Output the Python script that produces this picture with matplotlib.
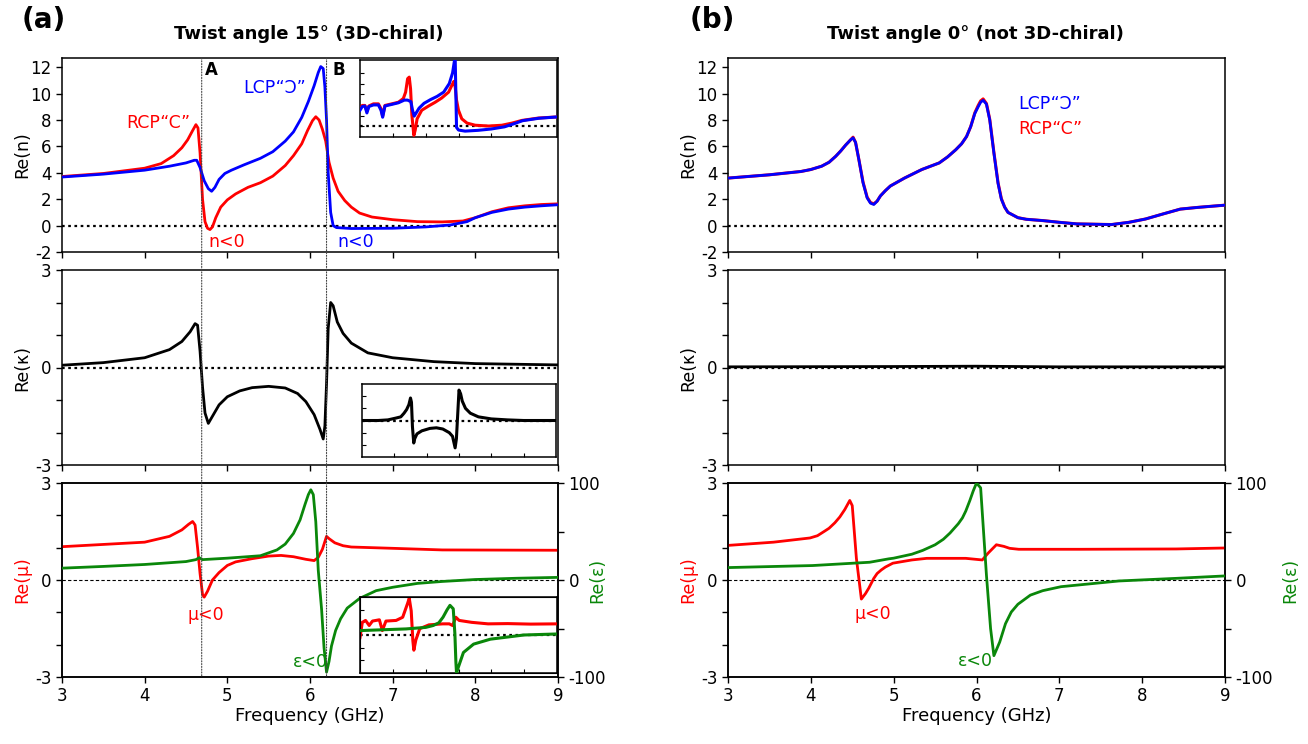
import matplotlib
matplotlib.use("Agg")
import matplotlib.pyplot as plt
from matplotlib.patches import ConnectionPatch
from matplotlib.ticker import FixedLocator, NullFormatter

plt.rcParams['axes.unicode_minus'] = False

# ---------------- data ----------------
# (a) twist 15 deg, Re(n)
a_rcp_f = [3.0, 3.5, 4.0, 4.2, 4.35, 4.45, 4.52, 4.58, 4.62, 4.645, 4.67, 4.70, 4.73, 4.76, 4.79, 4.82, 4.86,
           4.92, 5.0, 5.1, 5.25, 5.4, 5.55, 5.7, 5.8, 5.9, 5.97, 6.03, 6.07, 6.11, 6.15, 6.19, 6.23, 6.28, 6.34,
           6.42, 6.5, 6.6, 6.75, 7.0, 7.3, 7.6, 7.85, 8.0, 8.2, 8.4, 8.6, 8.8, 9.0]
a_rcp_n = [3.72, 3.95, 4.35, 4.7, 5.3, 5.9, 6.5, 7.2, 7.65, 7.4, 5.5, 2.0, 0.3, -0.2, -0.3, -0.1, 0.6,
           1.4, 1.95, 2.4, 2.9, 3.25, 3.75, 4.55, 5.3, 6.2, 7.2, 7.95, 8.25, 8.0, 7.3, 6.4, 4.8, 3.6, 2.6,
           1.9, 1.4, 0.95, 0.65, 0.45, 0.3, 0.28, 0.35, 0.6, 1.05, 1.35, 1.5, 1.6, 1.65]
a_lcp_f = [3.0, 3.5, 4.0, 4.3, 4.5, 4.6, 4.63, 4.67, 4.72, 4.77, 4.81, 4.85, 4.9, 4.97, 5.05, 5.2, 5.4, 5.55,
           5.7, 5.8, 5.9, 5.98, 6.05, 6.1, 6.13, 6.16, 6.18, 6.2, 6.22, 6.25, 6.28, 6.32, 6.5, 7.0, 7.4, 7.7,
           7.9, 8.0, 8.2, 8.4, 8.6, 8.8, 9.0]
a_lcp_n = [3.68, 3.9, 4.2, 4.5, 4.75, 4.95, 4.95, 4.4, 3.4, 2.8, 2.6, 2.9, 3.5, 3.95, 4.2, 4.6, 5.1, 5.6,
           6.4, 7.1, 8.2, 9.4, 10.6, 11.6, 12.05, 11.9, 10.5, 8.0, 4.0, 1.0, 0.0, -0.15, -0.22, -0.2, -0.1, 0.05,
           0.3, 0.6, 1.0, 1.25, 1.4, 1.5, 1.58]
# inset (measured)
ia_rcp_f = [3.0, 3.07, 3.15, 3.21, 3.27, 3.41, 3.56, 3.64, 3.69, 3.76, 3.97, 4.17, 4.32, 4.39, 4.45, 4.50,
            4.54, 4.58, 4.64, 4.68, 4.74, 4.88, 5.09, 5.29, 5.49, 5.70, 5.80, 5.86, 5.90, 5.94, 6.00, 6.10,
            6.26, 6.51, 6.92, 7.32, 7.63, 7.93, 8.44, 9.0]
ia_rcp_n = [3.3, 3.9, 3.9, 2.8, 3.8, 4.2, 4.2, 3.3, 1.9, 3.9, 4.2, 4.5, 5.2, 6.4, 8.9, 9.2,
            7.0, 2.1, -1.7, -0.75, 1.4, 3.0, 3.8, 4.5, 5.3, 6.4, 7.7, 8.4, 7.35, 4.9, 3.0, 1.4,
            0.6, 0.2, 0.05, 0.2, 0.6, 1.1, 1.55, 1.75]
ia_lcp_f = [3.0, 3.07, 3.15, 3.21, 3.27, 3.41, 3.56, 3.64, 3.69, 3.76, 3.97, 4.17, 4.35, 4.45, 4.55, 4.60,
            4.65, 4.70, 4.80, 4.95, 5.15, 5.35, 5.55, 5.72, 5.82, 5.88, 5.90, 5.92, 5.94, 6.0, 6.2, 6.6,
            7.0, 7.4, 7.7, 7.95, 8.44, 9.0]
ia_lcp_n = [3.0, 3.7, 3.8, 2.5, 3.7, 4.0, 4.0, 3.0, 1.7, 3.8, 4.1, 4.4, 4.9, 4.9, 4.6, 3.0,
            1.9, 2.4, 3.4, 4.3, 5.0, 5.6, 6.4, 8.0, 10.0, 12.4, 12.4, 6.0, -0.2, -0.7, -0.9, -0.75,
            -0.5, -0.1, 0.5, 1.05, 1.5, 1.75]

# (a) Re(kappa)
a_kap_f = [3.0, 3.5, 4.0, 4.3, 4.45, 4.55, 4.61, 4.64, 4.67, 4.70, 4.73, 4.77, 4.82, 4.9, 5.0, 5.15, 5.3,
           5.5, 5.7, 5.85, 5.95, 6.05, 6.12, 6.16, 6.18, 6.2, 6.22, 6.25, 6.28, 6.33, 6.4, 6.5, 6.7, 7.0,
           7.5, 8.0, 9.0]
a_kap = [0.07, 0.15, 0.3, 0.55, 0.8, 1.1, 1.35, 1.3, 0.5, -0.6, -1.4, -1.72, -1.5, -1.15, -0.9, -0.72, -0.62,
         -0.58, -0.63, -0.8, -1.05, -1.45, -1.9, -2.2, -1.8, -0.5, 1.2, 2.0, 1.9, 1.4, 1.05, 0.75, 0.45, 0.3,
         0.18, 0.12, 0.08]
ia_kap_f = [3.0, 3.5, 3.8, 4.05, 4.2, 4.3, 4.38, 4.45, 4.5, 4.53, 4.56, 4.6, 4.63, 4.7, 4.85, 5.1, 5.3,
            5.5, 5.7, 5.8, 5.88, 5.92, 5.96, 6.0, 6.05, 6.1, 6.2, 6.35, 6.6, 7.0, 7.5, 8.0, 9.0]
ia_kap = [0.0, 0.0, 0.05, 0.2, 0.3, 0.6, 0.9, 1.3, 1.85, 1.5, -0.5, -1.85, -1.5, -1.1, -0.85, -0.65, -0.6,
          -0.7, -1.0, -1.3, -2.25, -1.5, 0.5, 2.5, 2.2, 1.6, 1.0, 0.6, 0.3, 0.13, 0.05, 0.0, 0.0]

# (a) Re(mu), Re(eps)
a_mu_f = [3.0, 3.5, 4.0, 4.3, 4.45, 4.53, 4.58, 4.61, 4.64, 4.67, 4.70, 4.72, 4.76, 4.82, 4.9, 5.0, 5.1,
          5.3, 5.5, 5.65, 5.8, 5.95, 6.05, 6.1, 6.15, 6.2, 6.23, 6.3, 6.4, 6.5, 7.0, 7.6, 9.0]
a_mu = [1.03, 1.1, 1.17, 1.35, 1.55, 1.72, 1.81, 1.7, 1.0, 0.2, -0.45, -0.53, -0.35, 0.0, 0.23, 0.45, 0.56,
        0.66, 0.74, 0.76, 0.72, 0.64, 0.6, 0.7, 0.95, 1.35, 1.28, 1.15, 1.06, 1.02, 0.98, 0.93, 0.92]
a_eps_f = [3.0, 3.5, 4.0, 4.5, 4.62, 4.66, 4.7, 5.0, 5.4, 5.6, 5.7, 5.8, 5.88, 5.94, 5.98, 6.01, 6.04, 6.07,
           6.10, 6.14, 6.17, 6.20, 6.23, 6.26, 6.31, 6.37, 6.45, 6.6, 6.8, 7.0, 7.3, 7.6, 8.0, 8.5, 9.0]
a_eps = [12.2, 14, 16, 19, 21, 23, 21, 22.5, 25, 31, 37, 48, 62, 78, 88, 93, 88, 60,
         10, -30, -70, -95, -84, -68, -52, -40, -29, -19, -11, -7.5, -3.5, -1.5, 0.5, 1.8, 2.7]
ia_mu_f = [3.0, 3.07, 3.17, 3.28, 3.38, 3.59, 3.68, 3.79, 4.1, 4.30, 4.45, 4.50, 4.56, 4.61, 4.64, 4.70,
           4.82, 5.1, 5.52, 5.72, 5.82, 5.92, 6.02, 6.4, 6.9, 7.5, 8.2, 9.0]
ia_mu = [-0.2, 1.0, 1.15, 0.75, 1.1, 1.2, 0.35, 1.1, 1.15, 1.4, 2.5, 2.9, 1.9, -0.45, -1.2, -0.4,
         0.5, 0.8, 0.88, 0.88, 0.75, 1.4, 1.15, 1.0, 0.88, 0.9, 0.86, 0.88]
ia_eps_f = [3.0, 4.4, 5.0, 5.23, 5.4, 5.53, 5.65, 5.74, 5.84, 5.89, 5.92, 5.94, 5.99, 6.15, 6.46, 6.97, 7.99, 9.0]
ia_eps = [11.6, 16, 20, 25, 32, 47, 66, 78, 69, 2.7, -70, -100, -86, -46, -24, -11, 0, 2.7]

# (b) twist 0 deg
b_n_f = [3.0, 3.5, 3.88, 4.0, 4.13, 4.22, 4.3, 4.36, 4.42, 4.48, 4.51, 4.54, 4.58, 4.63, 4.68, 4.72, 4.76,
         4.80, 4.84, 4.9, 4.96, 5.13, 5.34, 5.55, 5.65, 5.75, 5.82, 5.88, 5.93, 5.98, 6.02, 6.05, 6.08, 6.12,
         6.16, 6.21, 6.26, 6.30, 6.34, 6.38, 6.5, 6.6, 6.8, 7.0, 7.21, 7.63, 7.84, 8.04, 8.25, 8.46, 8.67, 9.0]
b_lcp_n = [3.6, 3.85, 4.1, 4.25, 4.5, 4.8, 5.25, 5.65, 6.1, 6.5, 6.65, 6.3, 5.0, 3.25, 2.1, 1.7, 1.6,
           1.85, 2.25, 2.65, 3.0, 3.6, 4.25, 4.75, 5.2, 5.75, 6.2, 6.75, 7.5, 8.5, 9.0, 9.35, 9.5, 9.2,
           8.0, 5.5, 3.2, 2.0, 1.4, 1.0, 0.6, 0.48, 0.38, 0.25, 0.13, 0.08, 0.25, 0.5, 0.88, 1.25, 1.38, 1.55]
b_rcp_n = [3.6, 3.85, 4.1, 4.25, 4.5, 4.8, 5.25, 5.65, 6.1, 6.5, 6.7, 6.3, 5.0, 3.3, 2.15, 1.75, 1.65,
           1.85, 2.25, 2.65, 3.0, 3.6, 4.25, 4.75, 5.2, 5.75, 6.2, 6.75, 7.5, 8.55, 9.1, 9.45, 9.6, 9.25,
           8.05, 5.55, 3.25, 2.05, 1.4, 1.0, 0.6, 0.48, 0.38, 0.25, 0.13, 0.08, 0.25, 0.5, 0.88, 1.25, 1.38, 1.55]
b_kap_f = [3.0, 5.0, 6.0, 7.0, 9.0]
b_kap = [0.02, 0.03, 0.04, 0.02, 0.02]
b_mu_f = [3.0, 3.55, 3.99, 4.08, 4.16, 4.22, 4.29, 4.35, 4.41, 4.47, 4.50, 4.55, 4.61, 4.66, 4.7, 4.76,
          4.8, 4.85, 4.9, 4.99, 5.22, 5.40, 5.87, 6.07, 6.14, 6.24, 6.33, 6.4, 6.51, 7.25, 8.41, 9.0]
b_mu = [1.07, 1.17, 1.3, 1.37, 1.5, 1.6, 1.77, 1.95, 2.18, 2.46, 2.3, 0.67, -0.59, -0.42, -0.25, 0.05,
        0.2, 0.31, 0.4, 0.52, 0.62, 0.67, 0.67, 0.62, 0.83, 1.09, 1.04, 0.98, 0.95, 0.95, 0.96, 0.99]
b_eps_f = [3.0, 4.02, 4.71, 4.94, 5.0, 5.22, 5.35, 5.50, 5.6, 5.68, 5.78, 5.83, 5.87, 5.92, 5.96, 6.0, 6.05,
           6.12, 6.17, 6.21, 6.28, 6.35, 6.42, 6.5, 6.65, 6.8, 7.02, 7.72, 8.41, 9.0]
b_eps = [12.8, 14.9, 18.3, 21.8, 22.5, 26.6, 30.5, 36.3, 42, 48.4, 58, 64, 71, 82, 91.7, 100, 95,
         5, -50, -78, -64, -45, -33, -25, -15.6, -11, -6.9, -1, 1.7, 4.2]

line_A = 4.69
line_B = 6.20

n_ticks = [-2, 0, 2, 4, 6, 8, 10, 12]
x_ticks = [3, 4, 5, 6, 7, 8, 9]

# ---------------- styling ----------------
RED = '#ff0000'
BLUE = '#0000ff'
GREEN = '#0a870a'
W, H = 1308, 744

fig = plt.figure(figsize=(W / 100, H / 100), dpi=100)


def rect(x0, y0, x1, y1):
    return [x0 / W, 1 - y1 / H, (x1 - x0) / W, (y1 - y0) / H]


def ftxt(x, y, s, **kw):
    fig.text(x / W, 1 - y / H, s, **kw)


def style(ax, labels_x=False):
    for sp in ax.spines.values():
        sp.set_linewidth(1.1)
    ax.set_xlim(3, 9)
    ax.xaxis.set_major_locator(FixedLocator(x_ticks))
    if not labels_x:
        ax.xaxis.set_major_formatter(NullFormatter())
    ax.tick_params(axis='both', which='both', direction='out', length=4, width=1,
                   labelsize=12, right=False, top=False)


def style_inset(ax, ylim, yt):
    ax.set_xlim(3, 9)
    ax.set_ylim(*ylim)
    ax.xaxis.set_major_locator(FixedLocator([4, 5, 6, 7, 8]))
    ax.yaxis.set_major_locator(FixedLocator(yt))
    ax.xaxis.set_major_formatter(NullFormatter())
    ax.yaxis.set_major_formatter(NullFormatter())
    ax.tick_params(direction='in', length=3, width=0.8)
    for sp in ax.spines.values():
        sp.set_linewidth(1.1)
    ax.axhline(0, color='black', ls=(0, (1.2, 1.6)), lw=1.6, zorder=1)


panels = {}
for key, x0, x1 in [('a', 62, 558), ('b', 728, 1225)]:
    ax1 = fig.add_axes(rect(x0, 58, x1, 252))
    ax2 = fig.add_axes(rect(x0, 270, x1, 465))
    ax3 = fig.add_axes(rect(x0, 483, x1, 677))
    ax3r = ax3.twinx()
    for a in (ax1, ax2):
        style(a)
    style(ax3, labels_x=True)
    ax1.set_ylim(-2, 12.7)
    ax1.yaxis.set_major_locator(FixedLocator(n_ticks))
    for a in (ax2, ax3):
        a.set_ylim(-3, 3)
        a.yaxis.set_major_locator(FixedLocator([-3, 0, 3]))
        a.yaxis.set_minor_locator(FixedLocator([-2, -1, 1, 2]))
    ax3r.set_ylim(-100, 100)
    ax3r.yaxis.set_major_locator(FixedLocator([-100, 0, 100]))
    ax3r.yaxis.set_minor_locator(FixedLocator([-50, 50]))
    ax3r.tick_params(axis='y', which='both', direction='out', length=4, width=1, labelsize=12)
    for sp in ax3r.spines.values():
        sp.set_linewidth(1.1)
    ax1.axhline(0, color='black', ls=(0, (1.2, 1.6)), lw=1.6, zorder=1)
    ax2.axhline(0, color='black', ls=(0, (1.2, 1.6)), lw=1.6, zorder=1)
    ax3.axhline(0, color='black', ls=(0, (3, 2)), lw=0.8, zorder=1)
    ax3.set_xlabel('Frequency (GHz)', fontsize=13, labelpad=1)
    panels[key] = (ax1, ax2, ax3, ax3r)

# ---- panel (a) ----
ax1, ax2, ax3, ax3r = panels['a']
ax1.plot(a_rcp_f, a_rcp_n, color=RED, lw=2.0, zorder=3)
ax1.plot(a_lcp_f, a_lcp_n, color=BLUE, lw=2.0, zorder=3)
ax2.plot(a_kap_f, a_kap, color='black', lw=2.0, zorder=3)
ax3.plot(a_mu_f, a_mu, color=RED, lw=2.0, zorder=3)
ax3r.plot(a_eps_f, a_eps, color=GREEN, lw=2.0, zorder=3)

ax1.text(3.78, 7.75, 'RCP“C”', color=RED, fontsize=12.5, ha='left', va='center')
ax1.text(5.19, 10.4, 'LCP“Ↄ”', color=BLUE, fontsize=12.5, ha='left', va='center')
ax1.text(4.77, -1.25, 'n<0', color=RED, fontsize=12.5, ha='left', va='center')
ax1.text(6.33, -1.25, 'n<0', color=BLUE, fontsize=12.5, ha='left', va='center')
ax1.text(line_A + 0.04, 11.8, 'A', fontsize=12, fontweight='bold', ha='left', va='center')
ax1.text(line_B + 0.07, 11.8, 'B', fontsize=12, fontweight='bold', ha='left', va='center')
ax3.text(4.52, -1.08, 'μ<0', color=RED, fontsize=12.5, ha='left', va='center')
ax3.text(5.79, -2.55, 'ε<0', color=GREEN, fontsize=12.5, ha='left', va='center')

for fv in (line_A, line_B):
    con = ConnectionPatch(xyA=(fv, 12.7), coordsA=ax1.transData,
                          xyB=(fv, -3), coordsB=ax3.transData,
                          color='#444444', lw=0.8, ls=(0, (1, 1.5)), zorder=0.5)
    fig.add_artist(con)

# insets
in1 = fig.add_axes(rect(360, 60, 557, 137))
style_inset(in1, (-2, 12.4), [0, 2, 4, 6, 8, 10])
in1.plot(ia_rcp_f, ia_rcp_n, color=RED, lw=2.2, zorder=3)
in1.plot(ia_lcp_f, ia_lcp_n, color=BLUE, lw=2.2, zorder=3)

in2 = fig.add_axes(rect(362, 384, 556, 457))
style_inset(in2, (-3, 3), [-2, -1, 1, 2])
in2.plot(ia_kap_f, ia_kap, color='black', lw=2.2, zorder=3)

in3 = fig.add_axes(rect(360, 597, 557, 673))
style_inset(in3, (-3, 3), [-2, -1, 1, 2])
in3.plot(ia_mu_f, ia_mu, color=RED, lw=2.2, zorder=3)
in3r = in3.twinx()
in3r.set_ylim(-100, 100)
in3r.yaxis.set_major_locator(FixedLocator([]))
in3r.plot(ia_eps_f, ia_eps, color=GREEN, lw=2.2, zorder=3)

# ---- panel (b) ----
bx1, bx2, bx3, bx3r = panels['b']
bx1.plot(b_n_f, b_rcp_n, color=RED, lw=2.2, zorder=3)
bx1.plot(b_n_f, b_lcp_n, color=BLUE, lw=2.0, zorder=3)
bx2.plot(b_kap_f, b_kap, color='black', lw=2.0, zorder=3)
bx3.plot(b_mu_f, b_mu, color=RED, lw=2.0, zorder=3)
bx3r.plot(b_eps_f, b_eps, color=GREEN, lw=2.0, zorder=3)

bx1.text(6.5, 9.2, 'LCP“Ↄ”', color=BLUE, fontsize=12.5, ha='left', va='center')
bx1.text(6.5, 7.3, 'RCP“C”', color=RED, fontsize=12.5, ha='left', va='center')
bx3.text(4.53, -1.05, 'μ<0', color=RED, fontsize=12.5, ha='left', va='center')
bx3.text(5.77, -2.5, 'ε<0', color=GREEN, fontsize=12.5, ha='left', va='center')

# ---- labels ----
for xl, xr in [(22, 597), (688, 1290)]:
    ftxt(xl, 155, 'Re(n)', fontsize=12.5, rotation=90, ha='center', va='center')
    ftxt(xl, 368, 'Re(κ)', fontsize=12.5, rotation=90, ha='center', va='center')
    ftxt(xl, 580, 'Re(μ)', fontsize=12.5, rotation=90, ha='center', va='center', color=RED)
    ftxt(xr, 580, 'Re(ε)', fontsize=12.5, rotation=90, ha='center', va='center', color=GREEN)

ftxt(22, 20, '(a)', fontsize=20, fontweight='bold', ha='left', va='center')
ftxt(690, 20, '(b)', fontsize=20, fontweight='bold', ha='left', va='center')
ftxt(309, 34, 'Twist angle 15° (3D-chiral)', fontsize=13, fontweight='bold', ha='center', va='center')
ftxt(975, 34, 'Twist angle 0° (not 3D-chiral)', fontsize=13, fontweight='bold', ha='center', va='center')

fig.savefig('out.png', dpi=100)
